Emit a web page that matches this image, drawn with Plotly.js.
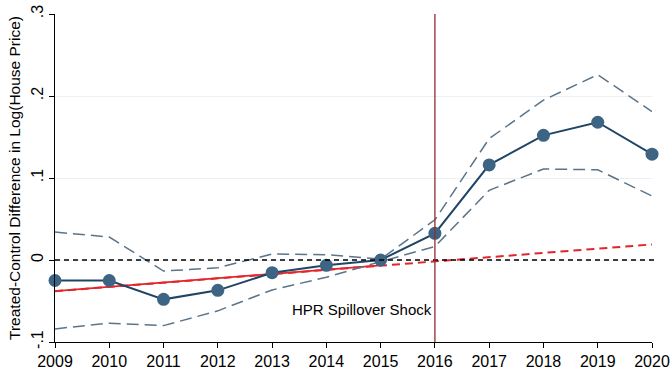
<!DOCTYPE html>
<html>
<head>
<meta charset="utf-8">
<script src="https://cdn.plot.ly/plotly-3.0.1.min.js"></script>
<style>html,body{margin:0;padding:0;background:#fff;}#chart{width:672px;height:384px;}</style>
</head>
<body>
<div id="chart"></div>
<script>
const years = [2009, 2010, 2011, 2012, 2013, 2014, 2015, 2016, 2017, 2018, 2019, 2020];
const estimate = [-0.025, -0.025, -0.048, -0.037, -0.0155, -0.0065, 0.0, 0.0325, 0.116, 0.152, 0.168, 0.129];
const upperCI = [0.034, 0.028, -0.0135, -0.0095, 0.0073, 0.0065, 0.001, 0.049, 0.148, 0.195, 0.226, 0.181];
const lowerCI = [-0.084, -0.077, -0.080, -0.062, -0.0365, -0.021, -0.002, 0.0165, 0.085, 0.111, 0.110, 0.078];
const preTrendYears = [2009, 2015];
const preTrendValues = [-0.038, -0.0065];
const extTrendYears = [2009, 2020];
const extTrendValues = [-0.038, 0.019];
const shockYear = 2016;
const shockLabel = "HPR Spillover Shock";
const yTickVals = [-0.1, 0, 0.1, 0.2, 0.3];
const yTickText = ["-.1", "0", ".1", ".2", ".3"];

const font = "Liberation Sans, Arial, sans-serif";
const traces = [
  {x: extTrendYears, y: extTrendValues, mode: "lines", line: {color: "#e3242b", width: 2, dash: "8px,5px"}, hoverinfo: "skip", cliponaxis: false},
  {x: preTrendYears, y: preTrendValues, mode: "lines", line: {color: "#e3242b", width: 1.7}, hoverinfo: "skip", cliponaxis: false},
  {x: years, y: upperCI, mode: "lines", line: {color: "#5b7489", width: 1.5, dash: "12px,6px"}, cliponaxis: false},
  {x: years, y: lowerCI, mode: "lines", line: {color: "#5b7489", width: 1.5, dash: "12px,6px"}, cliponaxis: false},
  {x: years, y: estimate, mode: "lines+markers", line: {color: "#1f4566", width: 2}, marker: {color: "#3d6583", size: 13}, cliponaxis: false}
];
const layout = {
  width: 672, height: 384,
  margin: {l: 55, r: 20, t: 14, b: 42},
  paper_bgcolor: "#ffffff", plot_bgcolor: "#ffffff",
  showlegend: false,
  font: {family: font, color: "#000"},
  xaxis: {
    range: [2009, 2020], tickmode: "array", tickvals: years, ticktext: years.map(String),
    showline: true, linecolor: "#000", linewidth: 1, ticks: "outside", ticklen: 5, tickcolor: "#000",
    showgrid: false, zeroline: false, tickfont: {size: 16, family: font}
  },
  yaxis: {
    range: [-0.1, 0.3], tickmode: "array", tickvals: yTickVals, ticktext: yTickText, tickangle: -90,
    showline: true, linecolor: "#000", linewidth: 1, ticks: "outside", ticklen: 5, tickcolor: "#000",
    showgrid: true, gridcolor: "#eaf0f3", gridwidth: 1, zeroline: false, tickfont: {size: 16, family: font},
    title: {text: "Treated-Control Difference in Log(House Price)", font: {size: 15.5, family: font}, standoff: 4}
  },
  shapes: [
    {type: "line", xref: "paper", x0: 0, x1: 1.01, yref: "y", y0: 0, y1: 0, line: {color: "#000", width: 1.3, dash: "5px,4px"}},
    {type: "line", xref: "x", x0: shockYear, x1: shockYear, yref: "paper", y0: 0, y1: 1, line: {color: "#8f2d2d", width: 1.3}}
  ],
  annotations: [
    {x: shockYear, y: -0.06, xref: "x", yref: "y", text: shockLabel, showarrow: false, xanchor: "right", xshift: -1, font: {size: 15, family: font, color: "#000"}}
  ]
};
Plotly.newPlot("chart", traces, layout, {displayModeBar: false, staticPlot: true});
</script>
</body>
</html>
